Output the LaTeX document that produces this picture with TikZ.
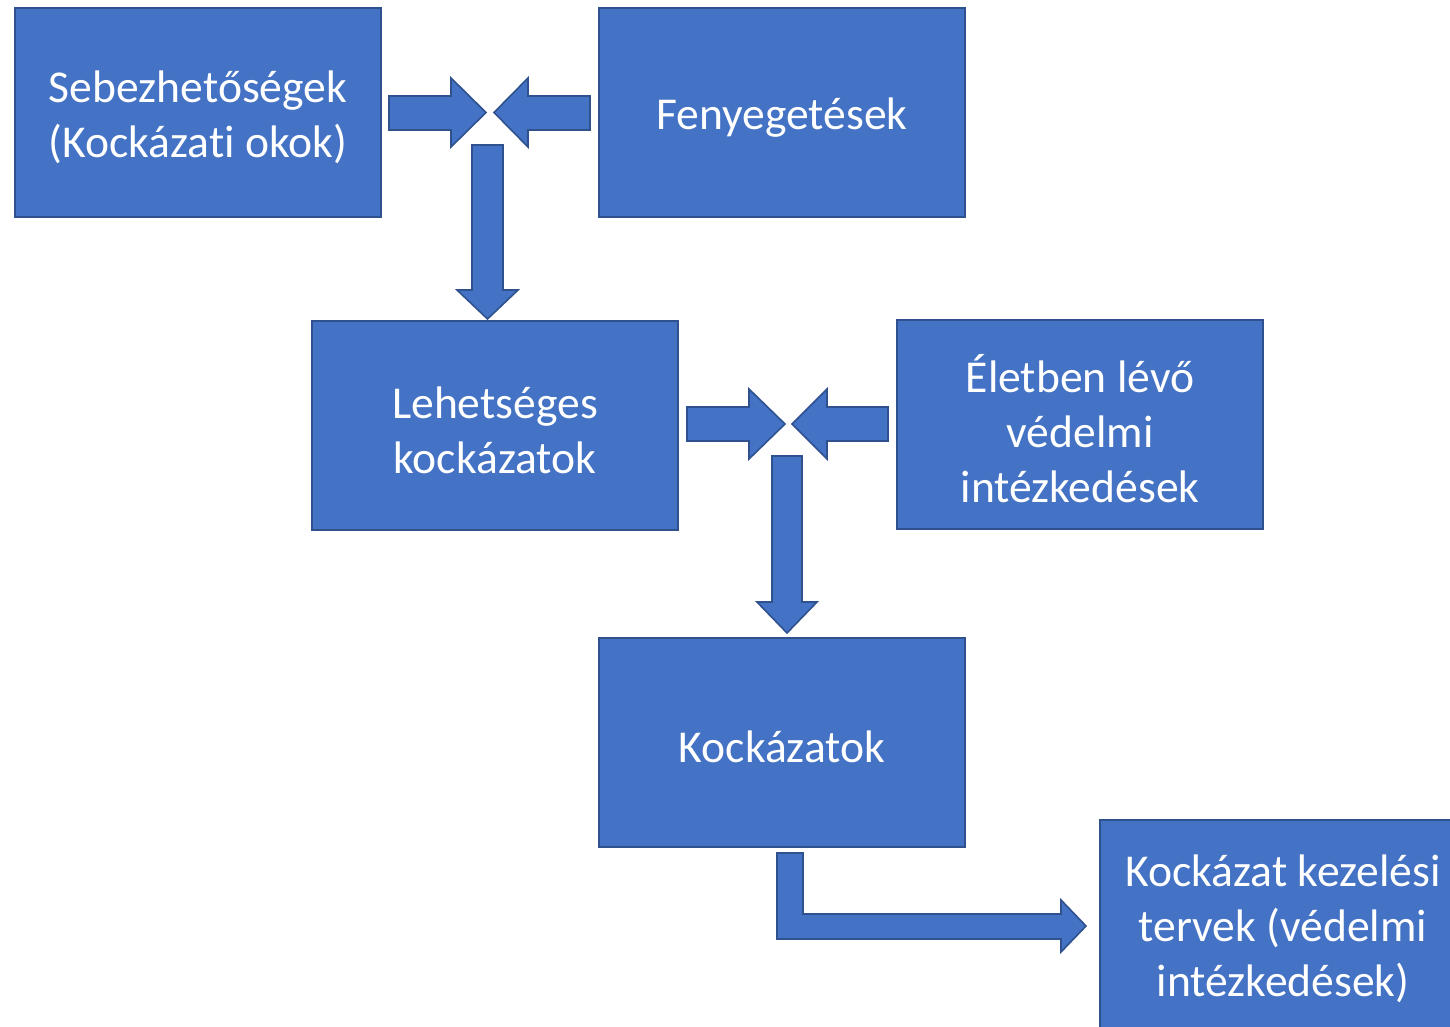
\documentclass[tikz,border=0pt]{standalone}
\usepackage{fontspec}
\setmainfont[Ligatures=NoCommon]{Carlito}
\definecolor{boxfill}{HTML}{4472C4}
\definecolor{boxline}{HTML}{2F528F}
\begin{document}
\begin{tikzpicture}[x=0.5pt,y=-0.5pt,
  box/.style={draw=boxline, fill=boxfill, line width=1pt, minimum width=183pt, minimum height=104.5pt,
    inner sep=0pt},
  boxtext/.style={align=center, text=white, inner sep=0pt, yshift=-2.3pt, font=\fontsize{22.8}{27.5}\selectfont},
  blockarrow/.style={draw=boxline, fill=boxfill, line width=0.8pt, line join=miter}]
\useasboundingbox (0,0) rectangle (1450,1027);
\clip (0,0) rectangle (1450,1027);
\fill[white] (0,0) rectangle (1450,1027);
\node[box] (seb) at (198,112.5) {};
\node[boxtext] (sebt) at (seb.center) {Sebezhetőségek\\(Kockázati okok)};
\node[box] (fen) at (782,112.5) {};
\node[boxtext] (fent) at (fen.center) {Fenyegetések};
\node[box] (leh) at (495,425.5) {};
\node[boxtext] (leht) at (leh.center) {Lehetséges\\kockázatok};
\node[box] (ele) at (1080,424.5) {};
\node[boxtext] (elet) at (ele.center) {Életben lévő\\védelmi\\intézkedések};
\node[box] (koc) at (782,742.5) {};
\node[boxtext] (koct) at (koc.center) {Kockázatok};
\node[box] (kez) at (1283,924.5) {};
\node[boxtext] (kezt) at (kez.center) {Kockázat kezelési\\tervek (védelmi\\intézkedések)};
% first junction
\draw[blockarrow] (389,96)--(451,96)--(451,78)--(486,112.5)--(451,147)--(451,130)--(389,130)--cycle;
\draw[blockarrow] (590,96)--(528,96)--(528,78)--(494,112.5)--(528,147)--(528,130)--(590,130)--cycle;
\draw[blockarrow] (472,145)--(503,145)--(503,290)--(518,290)--(487.5,319)--(457,290)--(472,290)--cycle;
% second junction
\draw[blockarrow] (687,407)--(749,407)--(749,389)--(785,424)--(749,459)--(749,441)--(687,441)--cycle;
\draw[blockarrow] (888,407)--(827,407)--(827,389)--(792,424)--(827,459)--(827,441)--(888,441)--cycle;
\draw[blockarrow] (772,456)--(802,456)--(802,602)--(817,602)--(787,633)--(757,602)--(772,602)--cycle;
% bent arrow
\draw[blockarrow] (777,853)--(803,853)--(803,914)--(1061,914)--(1061,900)--(1086,926)--(1061,952)--(1061,939)--(777,939)--cycle;
\end{tikzpicture}
\end{document}
